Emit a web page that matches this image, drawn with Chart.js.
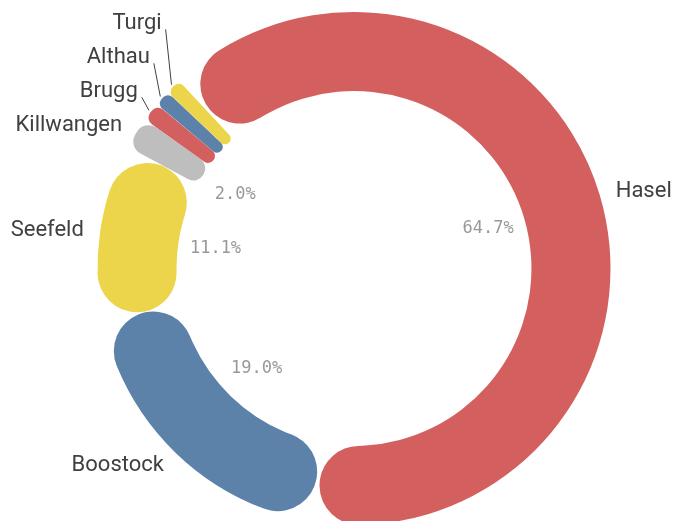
<!DOCTYPE html>
<html>
<head>
<meta charset="utf-8">
<script src="https://cdn.jsdelivr.net/npm/chart.js@4/dist/chart.umd.min.js"></script>
<style>
    html, body { margin: 0; padding: 0; background: #fff; }
    #wrap { width: 674px; height: 521px; }
</style>
</head>
<body>
<div id="wrap"><canvas id="myChart"></canvas></div>
<script>
const places = ['Hasel', 'Boostock', 'Seefeld', 'Killwangen', 'Brugg', 'Althau', 'Turgi'];
const shares = [64.7, 19.0, 11.1, 2.0, 1.2, 1.0, 1.0];
const colors = ['#d45f5f', '#5c82aa', '#ecd54a', '#bebebe', '#d45f5f', '#5c82aa', '#ecd54a'];

// labels outside the ring + percentages inside the hole
const ringLabels = {
    id: 'ringLabels',
    afterDatasetsDraw: (chart) => {
        const ctx = chart.ctx;
        const meta = chart.getDatasetMeta(0);
        const total = shares.reduce((a, b) => a + b, 0);
        const items = meta.data.map((arc, i) => {
            const p = arc.getProps(['x', 'y', 'startAngle', 'endAngle', 'outerRadius', 'innerRadius'], true);
            const mid = (p.startAngle + p.endAngle) / 2;
            const cos = Math.cos(mid);
            const sin = Math.sin(mid);
            return {
                i, p, cos, sin,
                x: p.x + cos * (p.outerRadius + 18),
                y: p.y + sin * (p.outerRadius + 18),
                y0: p.y + sin * (p.outerRadius + 18),
            };
        });

        // push left side labels up so they don't overlap
        const left = items.filter((it) => it.cos < 0).sort((a, b) => b.y - a.y);
        for (let k = 1; k < left.length; k++) {
            left[k].y = Math.min(left[k].y, left[k - 1].y - 34);
        }

        ctx.save();
        ctx.font = '22px Roboto';
        ctx.fillStyle = '#404040';
        ctx.textBaseline = 'middle';
        items.forEach((it) => {
            ctx.textAlign = it.cos < 0 ? 'right' : 'left';
            ctx.fillText(places[it.i], it.x, it.y + 1);
            if (Math.abs(it.y - it.y0) > 3) {
                const sx = it.p.x + it.cos * (it.p.outerRadius + 4);
                const sy = it.p.y + it.sin * (it.p.outerRadius + 4);
                ctx.strokeStyle = '#404040';
                ctx.lineWidth = 1;
                ctx.beginPath();
                ctx.moveTo(sx, sy);
                ctx.lineTo(it.x + 4, it.y + 7);
                ctx.stroke();
            }
        });

        ctx.font = '17px "DejaVu Sans Mono"';
        ctx.fillStyle = '#999999';
        ctx.textAlign = 'center';
        items.forEach((it) => {
            const pct = shares[it.i] / total * 100;
            if (pct < 1.95) return;
            const r = it.p.innerRadius - 36;
            ctx.fillText(pct.toFixed(1) + '%', it.p.x + it.cos * r, it.p.y + it.sin * r);
        });
        ctx.restore();
    },
};

const ctx = document.getElementById('myChart').getContext('2d');
const myChart = new Chart(ctx, {
    type: 'doughnut',
    data: {
        labels: places,
        datasets: [
            {
                data: shares,
                backgroundColor: colors,
                borderWidth: 0,
                borderRadius: 40,
                spacing: 3,
            },
        ],
    },
    options: {
        responsive: true,
        maintainAspectRatio: false,
        animation: false,
        rotation: -43,
        radius: 255,
        cutout: '69%',
        layout: {
            padding: { left: 34, right: 0, top: 16, bottom: 0 },
        },
        plugins: {
            legend: { display: false },
            tooltip: { enabled: false },
        },
    },
    plugins: [ringLabels],
});
</script>
</body>
</html>
